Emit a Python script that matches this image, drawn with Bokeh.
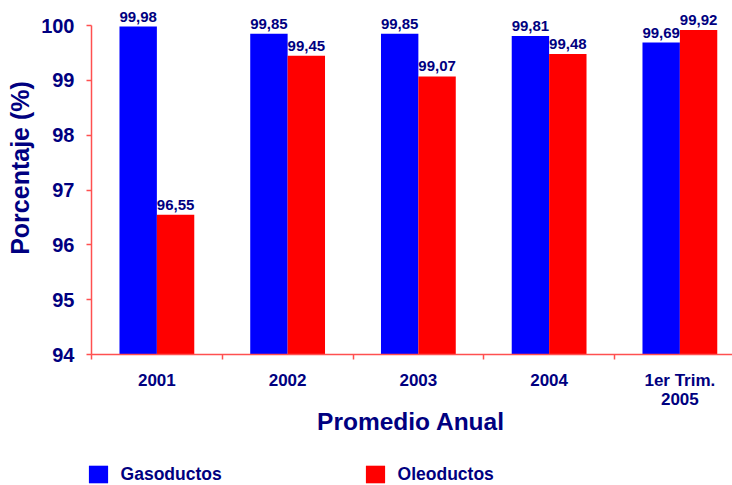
import math

from bokeh.core.properties import value
from bokeh.embed import file_html
from bokeh.models import (ColumnDataSource, FixedTicker, LabelSet, Label,
                          Legend, LegendItem, Range1d)
from bokeh.plotting import figure
from bokeh.resources import INLINE

# ---- data -------------------------------------------------------------
categories = ["2001", "2002", "2003", "2004", "1er Trim.\n2005"]
gasoductos = [99.98, 99.85, 99.85, 99.81, 99.69]
oleoductos = [96.55, 99.45, 99.07, 99.48, 99.92]
y_ticks = [94, 95, 96, 97, 98, 99, 100]

# ---- styling ----------------------------------------------------------
NAVY = "#000080"
AXIS_RED = "#ff5050"
FONT = "Liberation Sans"
BAR_W = 0.286
Y_BASE = 94

n = len(categories)
centers = [i + 0.5 for i in range(n)]
x_gas = [c - BAR_W / 2 for c in centers]
x_oil = [c + BAR_W / 2 for c in centers]


def fmt(v):
    return f"{v:.2f}".replace(".", ",")


src_gas = ColumnDataSource(dict(x=x_gas, top=gasoductos, label=[fmt(v) for v in gasoductos]))
src_oil = ColumnDataSource(dict(x=x_oil, top=oleoductos, label=[fmt(v) for v in oleoductos]))

# the plotting area spans the whole canvas; the axes are pinned inside it
p = figure(width=732, height=485, output_backend="svg", toolbar_location=None,
           x_range=Range1d(-0.696, 4.9025), y_range=Range1d(91.611, 100.456),
           min_border=0)
p.outline_line_color = None
p.xgrid.visible = False
p.ygrid.visible = False
p.background_fill_color = "white"

r_gas = p.vbar(x="x", top="top", bottom=Y_BASE, width=BAR_W, source=src_gas,
               fill_color="#0000ff", line_color=None)
r_oil = p.vbar(x="x", top="top", bottom=Y_BASE, width=BAR_W, source=src_oil,
               fill_color="#ff0000", line_color=None)

# value labels above every bar
for src in (src_gas, src_oil):
    p.add_layout(LabelSet(x="x", y="top", text="label", source=src,
                          y_offset=5, text_align="center", text_baseline="alphabetic",
                          text_font=value(FONT), text_font_style="bold",
                          text_font_size="15px", text_color=NAVY))

# y axis
ya = p.yaxis[0]
ya.fixed_location = 0
ya.ticker = FixedTicker(ticks=y_ticks, minor_ticks=[])
ya.bounds = (94, 100)
ya.axis_line_color = AXIS_RED
ya.axis_line_width = 1.5
ya.major_tick_line_color = AXIS_RED
ya.major_tick_line_width = 1.5
ya.major_tick_in = 0
ya.major_tick_out = 5
ya.major_label_standoff = 12
ya.major_label_text_font = FONT
ya.major_label_text_font_style = "bold"
ya.major_label_text_font_size = "20px"
ya.major_label_text_color = NAVY

# x axis: labels at category centres, tick marks at category boundaries
xa = p.xaxis[0]
xa.fixed_location = Y_BASE
xa.bounds = (0, 4.9025)
xa.ticker = FixedTicker(ticks=centers, minor_ticks=list(range(n)))
xa.major_label_overrides = {c: lab for c, lab in zip(centers, categories)}
xa.axis_line_color = AXIS_RED
xa.axis_line_width = 1.5
xa.major_tick_line_color = None
xa.major_tick_in = 0
xa.major_tick_out = 0
xa.minor_tick_line_color = AXIS_RED
xa.minor_tick_line_width = 1.5
xa.minor_tick_in = 0
xa.minor_tick_out = 5
xa.major_label_standoff = 11
xa.major_label_text_font = FONT
xa.major_label_text_font_style = "bold"
xa.major_label_text_font_size = "17px"
xa.major_label_text_line_height = 1.0
xa.major_label_text_color = NAVY

# axis titles
p.add_layout(Label(x=19, y=317.5, x_units="screen", y_units="screen",
                   text="Porcentaje (%)", angle=math.pi / 2,
                   text_align="center", text_baseline="middle",
                   text_font=FONT, text_font_style="bold",
                   text_font_size="25px", text_color=NAVY))
p.add_layout(Label(x=410.5, y=64.5, x_units="screen", y_units="screen",
                   text="Promedio Anual",
                   text_align="center", text_baseline="middle",
                   text_font=FONT, text_font_style="bold",
                   text_font_size="24.5px", text_color=NAVY))

# legend: one box per series along the bottom edge
for renderer, name, loc in ((r_gas, "Gasoductos", (85.6, 0)),
                            (r_oil, "Oleoductos", (362.6, 0))):
    lg = Legend(items=[LegendItem(label=name, renderers=[renderer])],
                location=loc, orientation="horizontal",
                padding=0, margin=0, border_line_color=None,
                background_fill_alpha=0,
                glyph_width=24, glyph_height=22, label_height=22,
                label_standoff=11,
                label_text_font=FONT, label_text_font_style="bold",
                label_text_font_size="17.5px", label_text_color=NAVY)
    p.add_layout(lg)

open("out.html", "w").write(file_html(p, INLINE))
